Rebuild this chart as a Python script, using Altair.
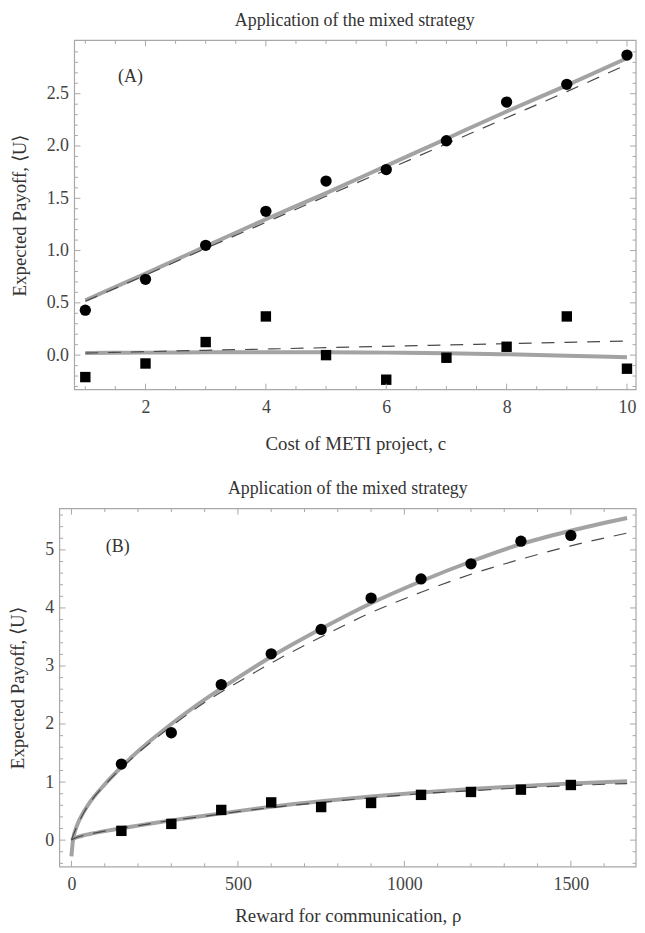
import altair as alt
import pandas as pd

# ---------------- Panel A : cost of METI project ----------------
a_cost = [1, 2, 3, 4, 5, 6, 7, 8, 9, 10]
a_circles = [0.43, 0.725, 1.05, 1.375, 1.665, 1.775, 2.05, 2.42, 2.59, 2.87]
a_squares = [-0.21, -0.08, 0.125, 0.37, 0.0, -0.235, -0.025, 0.08, 0.37, -0.13]
a_fit_upper = [0.525, 0.78, 1.04, 1.30, 1.55, 1.81, 2.07, 2.33, 2.58, 2.84]
a_theory_upper = [0.515, 0.765, 1.02, 1.27, 1.52, 1.77, 2.02, 2.27, 2.52, 2.78]
a_fit_lower = [0.02, 0.024, 0.027, 0.028, 0.027, 0.024, 0.018, 0.008, -0.005, -0.02]
a_theory_lower = [0.02, 0.033, 0.046, 0.058, 0.071, 0.084, 0.097, 0.109, 0.122, 0.135]
a_xticks_major = [2, 4, 6, 8, 10]
a_xticks_minor = [1, 1.5, 2.5, 3, 3.5, 4.5, 5, 5.5, 6.5, 7, 7.5, 8.5, 9, 9.5]
a_yticks_major = [0, 0.5, 1.0, 1.5, 2.0, 2.5]
a_yticks_minor = [-0.3, -0.2, -0.1, 0.1, 0.2, 0.3, 0.4, 0.6, 0.7, 0.8, 0.9, 1.1, 1.2,
                  1.3, 1.4, 1.6, 1.7, 1.8, 1.9, 2.1, 2.2, 2.3, 2.4, 2.6, 2.7, 2.8, 2.9]
a_label = ["(A)"]
a_label_pos = [1.75, 2.66]

# ---------------- Panel B : reward for communication ----------------
b_reward = [150, 300, 450, 600, 750, 900, 1050, 1200, 1350, 1500]
b_circles = [1.31, 1.85, 2.68, 3.21, 3.63, 4.17, 4.50, 4.76, 5.15, 5.25]
b_squares = [0.16, 0.28, 0.52, 0.65, 0.57, 0.64, 0.78, 0.83, 0.87, 0.95]
b_curve_x = [0, 5, 10, 20, 35, 55, 100, 150, 200, 300, 400, 500, 600, 750, 900,
             1050, 1200, 1350, 1500, 1669]
b_fit_upper = [-0.28, 0.02, 0.14, 0.3, 0.47, 0.65, 0.96, 1.26, 1.53, 2.0, 2.42, 2.8,
               3.16, 3.64, 4.08, 4.46, 4.8, 5.1, 5.33, 5.55]
b_theory_upper = [0.0, 0.08, 0.15, 0.28, 0.45, 0.64, 0.95, 1.24, 1.5, 1.96, 2.37, 2.72,
                  3.05, 3.5, 3.92, 4.27, 4.58, 4.84, 5.07, 5.29]
b_fit_lower = [0.0, 0.02, 0.035, 0.055, 0.08, 0.105, 0.155, 0.205, 0.25, 0.34, 0.42, 0.5,
               0.575, 0.67, 0.75, 0.82, 0.88, 0.93, 0.975, 1.015]
b_theory_lower = [0.0, 0.02, 0.035, 0.055, 0.08, 0.105, 0.155, 0.205, 0.25, 0.34, 0.41,
                  0.49, 0.56, 0.65, 0.73, 0.8, 0.85, 0.9, 0.94, 0.975]
b_xticks_major = [0, 500, 1000, 1500]
b_xticks_minor = [100, 200, 300, 400, 600, 700, 800, 900, 1100, 1200, 1300, 1400, 1600]
b_yticks_major = [0, 1, 2, 3, 4, 5]
b_yticks_minor = [-0.4, -0.2, 0.2, 0.4, 0.6, 0.8, 1.2, 1.4, 1.6, 1.8, 2.2, 2.4, 2.6, 2.8,
                  3.2, 3.4, 3.6, 3.8, 4.2, 4.4, 4.6, 4.8, 5.2, 5.4, 5.6]
b_label = ["(B)"]
b_label_pos = [139, 5.05]

FONT = "Liberation Serif"
FRAME = "#a8a8a8"
FIT = "#a3a3a3"
THEORY = "#4a4a4a"
W = 581


def panel(xs, ys, x_vals, curve_x, circles, squares, fit_up, th_up, fit_lo, th_lo,
          xmaj, xmin, ymaj, ymin, label, label_pos, H, x0, xtitle, ytitle,
          yfmt, title_dx, x_title_pad):
    pts = pd.DataFrame({"x": x_vals, "circ": circles, "sq": squares})
    cur = pd.DataFrame({"x": curve_x, "fu": fit_up, "tu": th_up, "fl": fit_lo, "tl": th_lo})
    one = pd.DataFrame({"k": [0]})
    common = dict(ticks=False, domain=False, grid=False,
                  labelFont=FONT, labelFontSize=18, labelColor="#444",
                  titleFont=FONT, titleFontSize=19, titleFontWeight="normal",
                  titleColor="#333")
    xaxis = alt.Axis(values=xmaj, format="d", title=xtitle, labelPadding=9,
                     titlePadding=x_title_pad, **common)
    yaxis = alt.Axis(values=ymaj, format=yfmt, title=ytitle, labelPadding=6,
                     titlePadding=17, offset=-x0, **common)

    def X(f):
        return alt.X(f, scale=xs, axis=xaxis)

    def Y(f):
        return alt.Y(f, scale=ys, axis=yaxis)

    layers = []
    # curves
    for col, color, width, dash in (("fu", FIT, 4, None), ("fl", FIT, 4, None),
                                    ("tu", THEORY, 1.2, [13, 10]), ("tl", THEORY, 1.2, [13, 10])):
        kw = dict(color=color, strokeWidth=width, interpolate="monotone")
        if dash:
            kw["strokeDash"] = dash
        layers.append(alt.Chart(cur).mark_line(**kw).encode(x=X("x:Q"), y=Y(col + ":Q")))
    # points
    layers.append(alt.Chart(pts).mark_square(size=110, color="black", opacity=1).encode(
        x=X("x:Q"), y=Y("sq:Q")))
    layers.append(alt.Chart(pts).mark_circle(size=130, color="black", opacity=1).encode(
        x=X("x:Q"), y=Y("circ:Q")))
    # ticks (inward, on all four sides)
    for vals, ln in ((xmaj, 6), (xmin, 3.5)):
        d = pd.DataFrame({"v": vals})
        for ya, yb in ((H, H - ln), (0, ln)):
            layers.append(alt.Chart(d).mark_rule(color=FRAME, strokeWidth=1).encode(
                x=X("v:Q"), y=alt.value(ya), y2=alt.value(yb)))
    for vals, ln in ((ymaj, 6), (ymin, 3.5)):
        d = pd.DataFrame({"v": vals})
        for xa, xb in ((x0, x0 + ln), (W, W - ln)):
            layers.append(alt.Chart(d).mark_rule(color=FRAME, strokeWidth=1).encode(
                y=Y("v:Q"), x=alt.value(xa), x2=alt.value(xb)))
    # frame
    layers.append(alt.Chart(one).mark_rect(filled=False, fill=None, stroke=FRAME,
                                           strokeWidth=1.2).encode(
        x=alt.value(x0), x2=alt.value(W), y=alt.value(0), y2=alt.value(H)))
    # panel label
    lab = pd.DataFrame({"t": label, "x": [label_pos[0]], "y": [label_pos[1]]})
    layers.append(alt.Chart(lab).mark_text(font=FONT, fontSize=18, color="#333").encode(
        x=X("x:Q"), y=Y("y:Q"), text="t:N"))

    return alt.layer(*layers).properties(
        width=W, height=H,
        title=alt.TitleParams("Application of the mixed strategy", font=FONT, fontSize=18,
                              fontWeight="normal", color="#333", anchor="middle",
                              frame="group", offset=10, dx=title_dx))


top = panel(
    xs=alt.Scale(domain=[0.82, 10.15], range=[15, W], nice=False, zero=False),
    ys=alt.Scale(domain=[-0.33, 3.01], nice=False, zero=False),
    x_vals=a_cost, curve_x=a_cost, circles=a_circles, squares=a_squares,
    fit_up=a_fit_upper, th_up=a_theory_upper, fit_lo=a_fit_lower, th_lo=a_theory_lower,
    xmaj=a_xticks_major, xmin=a_xticks_minor, ymaj=a_yticks_major, ymin=a_yticks_minor,
    label=a_label, label_pos=a_label_pos, H=352, x0=15,
    xtitle="Cost of METI project, c", ytitle="Expected Payoff, \u27e8U\u27e9",
    yfmt=".1f", title_dx=7, x_title_pad=18)

bottom = panel(
    xs=alt.Scale(domain=[-35.6, 1695.7], nice=False, zero=False),
    ys=alt.Scale(domain=[-0.46, 5.71], nice=False, zero=False),
    x_vals=b_reward, curve_x=b_curve_x, circles=b_circles, squares=b_squares,
    fit_up=b_fit_upper, th_up=b_theory_upper, fit_lo=b_fit_lower, th_lo=b_theory_lower,
    xmaj=b_xticks_major, xmin=b_xticks_minor, ymaj=b_yticks_major, ymin=b_yticks_minor,
    label=b_label, label_pos=b_label_pos, H=361, x0=0,
    xtitle="Reward for communication, \u03c1", ytitle="Expected Payoff, \u27e8U\u27e9",
    yfmt="d", title_dx=0, x_title_pad=13)

chart = alt.vconcat(top, bottom, spacing=27).properties(
    padding={"left": 1, "top": 0, "right": 0, "bottom": 0}
).configure_view(stroke=None)

chart.save("out.html", embed_options={"renderer": "svg", "actions": False})
